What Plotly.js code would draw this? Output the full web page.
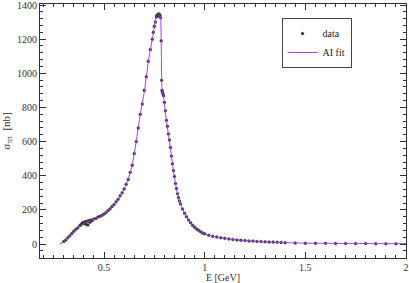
<!DOCTYPE html>
<html><head><meta charset="utf-8">
<script src="https://cdn.plot.ly/plotly-3.0.1.min.js"></script>
<style>html,body{margin:0;padding:0;background:#fff}#c{width:409px;height:283px}</style>
</head><body><div id="c"></div>
<script>
// Fit curve (E in GeV, sigma in nb)
const fitE = [0.28,0.30,0.32,0.34,0.36,0.38,0.40,0.42,0.44,0.46,0.48,0.50,0.52,0.54,0.56,0.58,0.60,0.62,0.64,0.66,0.68,0.70,0.72,0.74,0.75,0.76,0.77,0.778,0.782,0.785,0.787,0.790,0.795,0.80,0.81,0.82,0.83,0.84,0.85,0.86,0.87,0.88,0.89,0.90,0.92,0.94,0.96,0.98,1.00,1.02,1.05,1.10,1.15,1.20,1.25,1.30,1.35,1.40,1.50,1.60,1.70,1.80,1.90,2.00];
const fitS = [0,12,35,60,85,105,120,130,138,148,160,175,195,218,245,280,320,380,460,600,760,890,1070,1200,1270,1330,1345,1340,1310,1100,920,895,870,820,720,640,560,470,390,320,270,235,205,180,140,110,88,72,60,52,43,33,26,20,16,12,10,8,5,4,3,3,2,2];
// Measured data
const dataE = [0.30,0.31,0.32,0.33,0.34,0.35,0.36,0.37,0.38,0.385,0.39,0.395,0.40,0.405,0.41,0.415,0.42,0.425,0.43,0.435,0.44,0.45,0.46,0.47,0.48,0.49,0.50,0.51,0.52,0.53,0.54,0.55,0.56,0.57,0.58,0.59,0.60,0.61,0.62,0.63,0.64,0.65,0.66,0.67,0.68,0.69,0.70,0.71,0.72,0.73,0.74,0.745,0.75,0.755,0.76,0.763,0.766,0.769,0.772,0.775,0.778,0.781,0.784,0.786,0.788,0.790,0.793,0.796,0.80,0.805,0.81,0.815,0.82,0.825,0.83,0.835,0.84,0.845,0.85,0.855,0.86,0.865,0.87,0.875,0.88,0.89,0.90,0.91,0.92,0.93,0.94,0.95,0.96,0.97,0.98,0.99,1.00,1.02,1.04,1.06,1.08,1.10,1.12,1.14,1.16,1.18,1.20,1.22,1.24,1.26,1.28,1.30,1.32,1.34,1.36,1.38,1.40,1.45,1.50,1.55,1.60,1.65,1.70,1.75,1.80,1.85,1.90,1.95,2.00];
const dataS = [14,24,36,48,62,74,86,95,108,112,118,126,122,130,116,134,112,138,128,140,136,146,150,158,162,168,176,184,196,206,220,232,248,262,282,300,322,350,378,420,462,530,600,680,760,820,900,980,1070,1140,1200,1240,1275,1300,1330,1340,1335,1348,1342,1346,1338,1325,1190,960,900,890,880,868,830,780,725,690,645,610,565,515,470,430,395,355,325,295,272,252,235,205,180,160,140,124,110,98,88,80,72,65,60,52,46,41,37,33,30,27,24,22,20,18,17,15,14,13,12,11,10,9,8,6,5,4,4,3,3,3,3,2,2,2];

const serif = 'Liberation Serif, Times New Roman, serif';
const axCol = '#333';
const xRange = [0.182, 2.0];
const yRange = [-82, 1406];
const traces = [
  {x: dataE, y: dataS, type: 'scatter', mode: 'markers', name: 'data',
   marker: {size: 3, color: 'rgba(25,25,25,0.9)', line: {width: 0.5, color: 'rgba(90,90,90,0.6)'}}},
  {x: fitE, y: fitS, type: 'scatter', mode: 'lines', name: 'AI fit',
   line: {color: '#a040e8', width: 1, shape: 'spline', smoothing: 0.3}}
];
const layout = {
  width: 409, height: 283,
  margin: {l: 40, r: 3, t: 4, b: 25},
  paper_bgcolor: '#fff', plot_bgcolor: '#fff',
  font: {family: serif, size: 10, color: '#333'},
  showlegend: true,
  legend: {x: 0.66, y: 0.945, xanchor: 'left', yanchor: 'top',
           bgcolor: '#fff', bordercolor: '#444', borderwidth: 1,
           font: {family: serif, size: 10, color: '#222'},
           tracegroupgap: 0, itemwidth: 30},
  xaxis: {range: xRange, dtick: 0.5, tick0: 0, ticklabeloverflow: 'allow',
          ticks: 'inside', ticklen: 6, tickcolor: axCol, tickwidth: 1,
          minor: {dtick: 0.05, ticks: 'inside', ticklen: 3, tickcolor: axCol, tickwidth: 1, showgrid: false},
          showline: true, linecolor: axCol, linewidth: 1, mirror: 'allticks',
          showgrid: false, zeroline: false,
          tickfont: {family: serif, size: 10, color: '#333'},
          title: {text: 'E [GeV]', font: {family: serif, size: 10, color: '#333'}, standoff: 2}},
  yaxis: {range: yRange, dtick: 200, tick0: 0, ticklabeloverflow: 'allow',
          ticks: 'inside', ticklen: 6, tickcolor: axCol, tickwidth: 1,
          minor: {dtick: 40, ticks: 'inside', ticklen: 3, tickcolor: axCol, tickwidth: 1, showgrid: false},
          showline: true, linecolor: axCol, linewidth: 1, mirror: 'allticks',
          showgrid: false, zeroline: false,
          tickfont: {family: serif, size: 10, color: '#333'},
          title: {text: 'σ<sub>ππ</sub>  [nb]', font: {family: serif, size: 11, color: '#333'}, standoff: 4}}
};
Plotly.newPlot('c', traces, layout, {displayModeBar: false, staticPlot: true});
</script></body></html>
